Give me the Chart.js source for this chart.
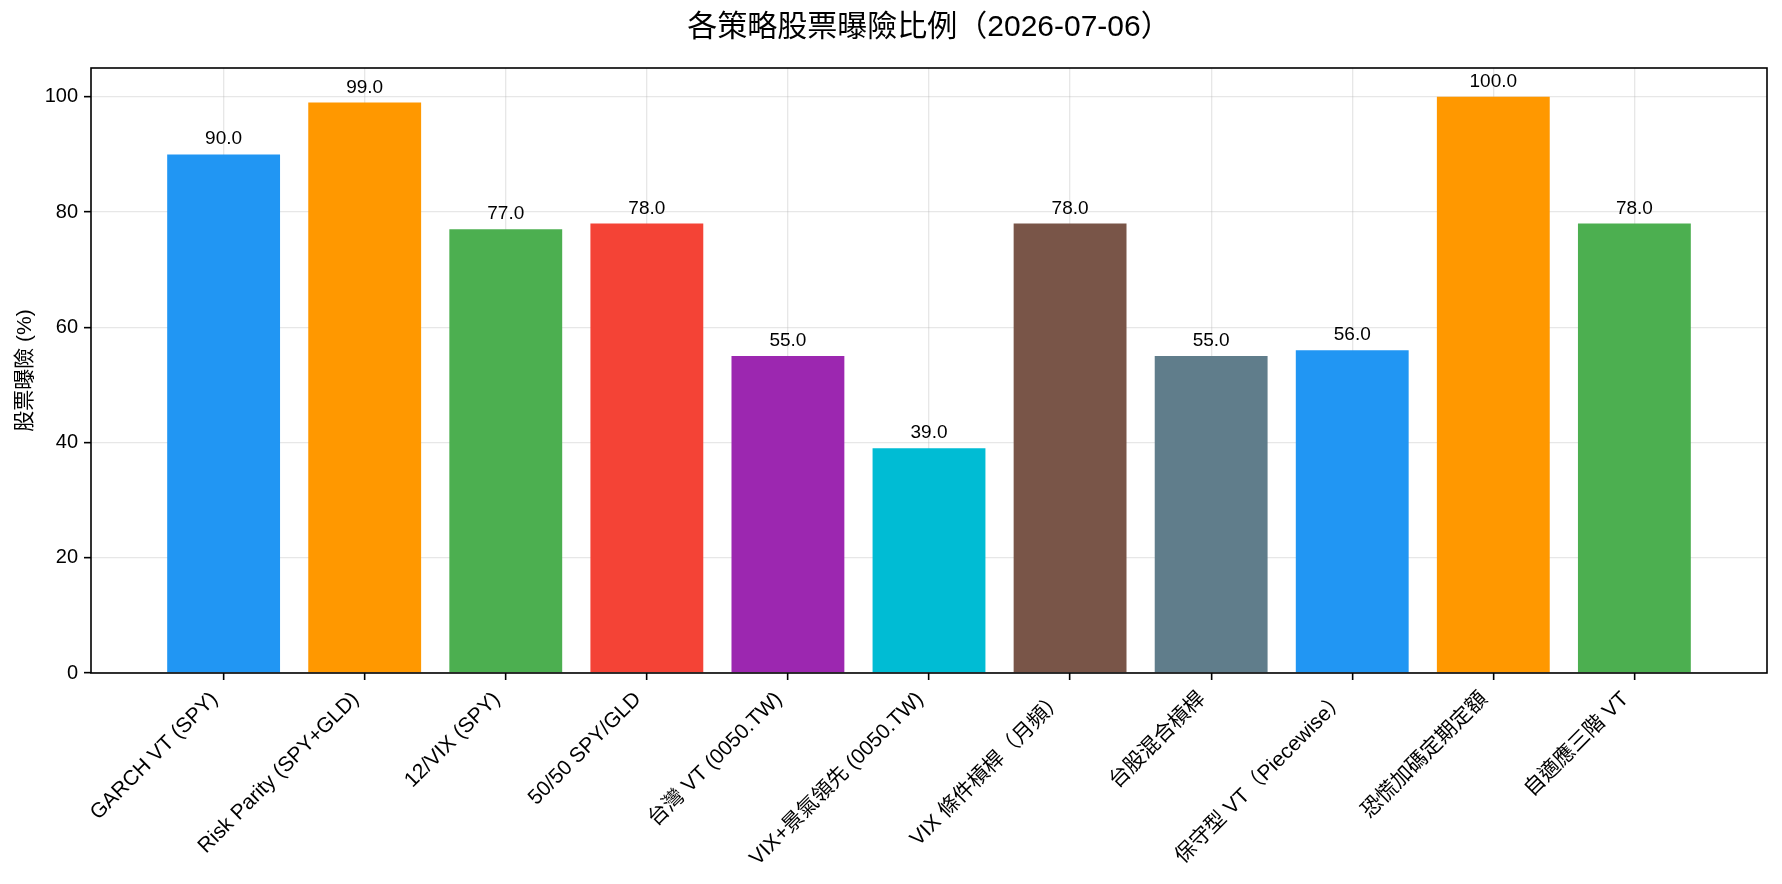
<!DOCTYPE html>
<html>
<head>
<meta charset="utf-8">
<script src="https://cdn.jsdelivr.net/npm/chart.js@4/dist/chart.umd.min.js"></script>
<style>
  html, body { margin: 0; padding: 0; background: #fff; }
  #wrap { width: 1782px; height: 884px; }
</style>
</head>
<body>
<div id="wrap"><canvas id="chart"></canvas></div>
<script>
// data
const strategies = [
    "GARCH VT (SPY)", "Risk Parity (SPY+GLD)", "12/VIX (SPY)", "50/50 SPY/GLD",
    "台灣 VT (0050.TW)", "VIX+景氣領先 (0050.TW)", "VIX 條件槓桿（月頻）", "台股混合槓桿",
    "保守型 VT（Piecewise）", "恐慌加碼定期定額", "自適應三階 VT"
];
const exposure = [90, 99, 77, 78, 55, 39, 78, 55, 56, 100, 78];
const barColors = ["#2196F3", "#FF9800", "#4CAF50", "#F44336", "#9C27B0", "#00BCD4",
    "#795548", "#607D8B", "#2196F3", "#FF9800", "#4CAF50"];
const yTicks = [0, 20, 40, 60, 80, 100];
const chartTitle = "各策略股票曝險比例（2026-07-06）";

const FONT = "'Liberation Sans', 'Noto Sans CJK TC', sans-serif";
Chart.defaults.font.family = FONT;
Chart.defaults.color = "#000";

const gridColor = "rgba(176,176,176,0.3)";

// title over the axes, value labels above bars, axes frame
const extras = {
    id: "extras",
    afterDraw(chart) {
        const ctx = chart.ctx;
        const a = chart.chartArea;
        const meta = chart.getDatasetMeta(0);
        ctx.save();
        ctx.fillStyle = "#000";
        ctx.textAlign = "center";

        ctx.font = "30px " + FONT;
        ctx.textBaseline = "middle";
        ctx.fillText(chartTitle, (a.left + a.right) / 2, 28);

        ctx.font = "19px " + FONT;
        ctx.textBaseline = "alphabetic";
        meta.data.forEach((bar, i) => {
            ctx.fillText(exposure[i].toFixed(1), bar.x, bar.y - 10);
        });

        ctx.strokeStyle = "#000";
        ctx.lineWidth = 1.6;
        ctx.strokeRect(a.left, a.top, a.right - a.left, a.bottom - a.top);
        ctx.restore();
    }
};

new Chart(document.getElementById("chart"), {
    type: "bar",
    data: {
        datasets: [{
            data: exposure.map((v, i) => ({ x: i, y: v })),
            backgroundColor: barColors,
            barPercentage: 1,
            categoryPercentage: 0.8
        }]
    },
    options: {
        responsive: true,
        maintainAspectRatio: false,
        animation: false,
        layout: { padding: { left: 0, right: 15, top: 68, bottom: 0 } },
        plugins: {
            legend: { display: false },
            tooltip: { enabled: false },
            title: { display: false }
        },
        scales: {
            x: {
                type: "linear",
                min: -0.94,
                max: 10.94,
                offset: false,
                z: 1,
                afterBuildTicks: s => { s.ticks = strategies.map((_, i) => ({ value: i })); },
                afterFit: s => { s.height = 211; },
                ticks: {
                    autoSkip: false,
                    minRotation: 45,
                    maxRotation: 45,
                    padding: 7,
                    labelOffset: -9,
                    font: { size: 21 },
                    callback: v => strategies[v]
                },
                grid: { offset: false, color: gridColor, lineWidth: 1.3, tickColor: "#000", tickLength: 7, tickWidth: 1.6 },
                border: { display: false }
            },
            y: {
                min: 0,
                max: 105,
                z: 1,
                afterBuildTicks: s => { s.ticks = yTicks.map(v => ({ value: v })); },
                afterFit: s => { s.width = 91; },
                ticks: { font: { size: 20 }, padding: 6 },
                grid: { color: gridColor, lineWidth: 1.3, tickColor: "#000", tickLength: 7, tickWidth: 1.6 },
                border: { display: false },
                title: {
                    display: true,
                    text: "股票曝險 (%)",
                    font: { size: 21 },
                    padding: { top: 13, bottom: 0 }
                }
            }
        }
    },
    plugins: [extras]
});
</script>
</body>
</html>
